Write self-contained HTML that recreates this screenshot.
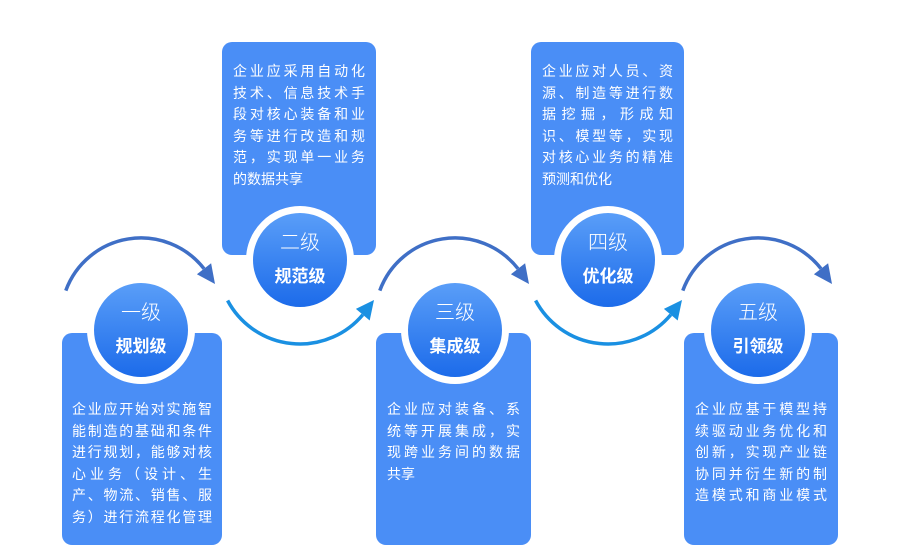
<!DOCTYPE html>
<html><head><meta charset="utf-8"><style>
body{margin:0;width:915px;height:560px;background:#fff;position:relative;overflow:hidden;font-family:"Liberation Sans","Noto Sans CJK SC",sans-serif}
.box{position:absolute;background:#4a8ef6;border-radius:10px;color:#fff;font-size:14px;line-height:21.5px;box-sizing:border-box;padding:0 11px}
.box div{text-align:justify;text-align-last:justify;white-space:nowrap}
.c{position:absolute;width:94px;height:94px;border-radius:50%;border:7px solid #fff;background:linear-gradient(#5a9ef8,#1c6bea);color:#fff;text-align:center;margin:-54px 0 0 -54px}
.c .a{font-size:20px;margin-top:18px;font-weight:300;line-height:24px}
.c .b{font-size:17px;font-weight:bold;margin-top:12px;line-height:20px}
</style></head><body>
<div class="box" style="left:62px;top:333px;width:160px;height:212px;padding:66px 10px 0"><div>企业应开始对实施智</div><div>能制造的基础和条件</div><div>进行规划，能够对核</div><div>心业务（设计、生</div><div>产、物流、销售、服</div><div>务）进行流程化管理</div></div>
<div class="box" style="left:222px;top:42px;width:154px;height:213px;padding-top:19px"><div>企业应采用自动化</div><div>技术、信息技术手</div><div>段对核心装备和业</div><div>务等进行改造和规</div><div>范，实现单一业务</div><div style="text-align-last:left">的数据共享</div></div>
<div class="box" style="left:376px;top:333px;width:155px;height:212px;padding-top:66px"><div>企业应对装备、系</div><div>统等开展集成，实</div><div>现跨业务间的数据</div><div style="text-align-last:left">共享</div></div>
<div class="box" style="left:531px;top:42px;width:153px;height:213px;padding-top:19px"><div>企业应对人员、资</div><div>源、制造等进行数</div><div>据挖掘，形成知</div><div>识、模型等，实现</div><div>对核心业务的精准</div><div style="text-align-last:left">预测和优化</div></div>
<div class="box" style="left:684px;top:333px;width:154px;height:212px;padding-top:66px"><div>企业应基于模型持</div><div>续驱动业务优化和</div><div>创新，实现产业链</div><div>协同并衍生新的制</div><div>造模式和商业模式</div></div>
<div class="c" style="left:141px;top:330px"><div class="a">一级</div><div class="b">规划级</div></div>
<div class="c" style="left:300px;top:260px"><div class="a">二级</div><div class="b">规范级</div></div>
<div class="c" style="left:455px;top:330px"><div class="a">三级</div><div class="b">集成级</div></div>
<div class="c" style="left:608px;top:260px"><div class="a">四级</div><div class="b">优化级</div></div>
<div class="c" style="left:758px;top:330px"><div class="a">五级</div><div class="b">引领级</div></div>
<svg width="915" height="560" style="position:absolute;left:0;top:0">
<defs>
<g id="t"><path d="M-75.2 -27.4 A80 80 0 0 1 63 -49.3" fill="none" stroke="#3f6fc6" stroke-width="3.5"/><polygon points="70.1,-54.8 55.9,-43.8 74,-34" fill="#3f6fc6"/></g>
<g id="b"><path d="M-72.4 38.5 A82 82 0 0 0 62.8 52.7" fill="none" stroke="#1a90e2" stroke-width="3.5"/><polygon points="69.7,58.5 55.9,46.9 74,38" fill="#1a90e2"/></g>
</defs>
<use href="#t" transform="translate(141,318)"/>
<use href="#t" transform="translate(455,318)"/>
<use href="#t" transform="translate(758,318)"/>
<use href="#b" transform="translate(300,262)"/>
<use href="#b" transform="translate(608,262)"/>
</svg>
</body></html>
